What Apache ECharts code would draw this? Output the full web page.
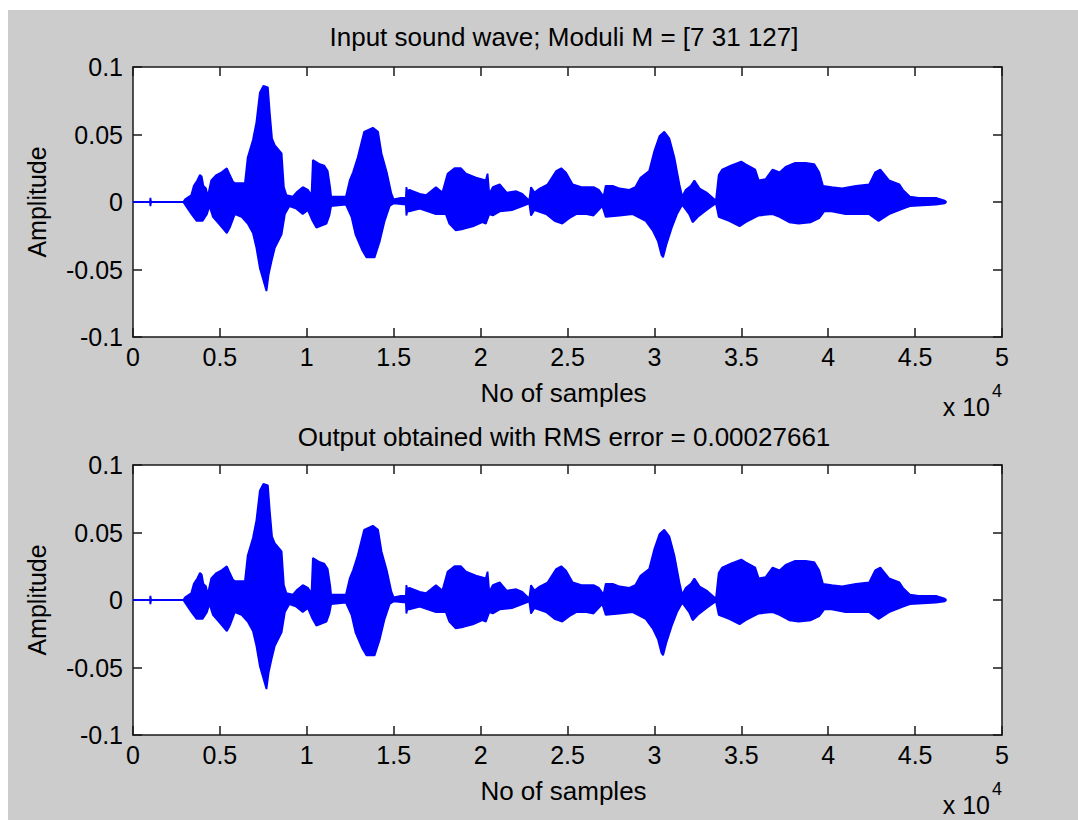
<!DOCTYPE html>
<html>
<head>
<meta charset="utf-8">
<script src="https://cdn.jsdelivr.net/npm/echarts@6/dist/echarts.min.js"></script>
<style>
html,body{margin:0;padding:0;background:#ffffff;}
#chart{width:1078px;height:820px;}
</style>
</head>
<body>
<div id="chart"></div>
<script>
// ---- Text ----
const titleTop = 'Input sound wave; Moduli M = [7 31 127]';
const titleBottom = 'Output obtained with RMS error = 0.00027661';
const xAxisName = 'No of samples';
const yAxisName = 'Amplitude';

// ---- Axis ranges / ticks (x in units of 10^4 samples) ----
const xTicks = [0, 0.5, 1, 1.5, 2, 2.5, 3, 3.5, 4, 4.5, 5];
const yTicks = [-0.1, -0.05, 0, 0.05, 0.1];

// ---- Waveform envelope: [sample (x10^4), amplitude] ----
const inputUpper = [
  [0,0],[0.098,0],[0.10,0.003],[0.104,0],[0.29,0],[0.30,0.002],[0.335,0.005],[0.35,0.012],
  [0.37,0.016],[0.385,0.020],[0.395,0.019],[0.405,0.012],[0.42,0.010],[0.43,0.004],[0.45,0.016],
  [0.48,0.020],[0.51,0.022],[0.54,0.025],[0.557,0.020],[0.575,0.015],[0.586,0.014],[0.644,0.014],
  [0.66,0.033],[0.69,0.046],[0.71,0.059],[0.73,0.081],[0.75,0.086],[0.776,0.085],[0.787,0.066],
  [0.80,0.047],[0.816,0.042],[0.855,0.036],[0.868,0.011],[0.883,0.005],[0.92,0.004],[0.94,0.007],
  [0.977,0.011],[1.006,0.009],[1.027,0.005],[1.035,0.031],[1.075,0.028],[1.10,0.027],[1.12,0.023],
  [1.135,0.010],[1.14,0.004],[1.225,0.004],[1.247,0.016],[1.266,0.022],[1.293,0.033],[1.33,0.052],
  [1.38,0.055],[1.41,0.052],[1.43,0.036],[1.46,0.022],[1.487,0.006],[1.50,0.002],[1.54,0.003],
  [1.57,0.003],[1.573,0.011],[1.578,0.008],[1.59,0.009],[1.65,0.006],[1.686,0.005],[1.743,0.011],
  [1.78,0.007],[1.81,0.021],[1.85,0.025],[1.886,0.025],[1.916,0.021],[1.973,0.018],[2.03,0.016],
  [2.04,0.021],[2.05,0.006],[2.07,0.011],[2.11,0.013],[2.15,0.007],[2.205,0.008],[2.24,0.006],
  [2.28,0.001],[2.29,0.011],[2.31,0.007],[2.34,0.010],[2.385,0.013],[2.435,0.023],[2.464,0.025],
  [2.49,0.022],[2.53,0.013],[2.58,0.011],[2.65,0.011],[2.68,0.009],[2.707,0.004],[2.72,0.012],
  [2.76,0.012],[2.80,0.010],[2.856,0.009],[2.89,0.011],[2.92,0.018],[2.97,0.023],[3.0,0.038],
  [3.03,0.049],[3.057,0.052],[3.086,0.047],[3.115,0.033],[3.144,0.013],[3.16,0.004],[3.18,0.009],
  [3.21,0.012],[3.23,0.016],[3.26,0.010],[3.30,0.007],[3.354,0.001],[3.37,0.020],[3.39,0.024],
  [3.44,0.027],[3.50,0.030],[3.525,0.028],[3.58,0.024],[3.60,0.016],[3.64,0.017],[3.68,0.024],
  [3.72,0.022],[3.755,0.026],[3.81,0.029],[3.87,0.029],[3.92,0.028],[3.948,0.022],[3.97,0.012],
  [4.02,0.011],[4.08,0.010],[4.16,0.012],[4.236,0.013],[4.27,0.022],[4.30,0.024],[4.35,0.016],
  [4.41,0.013],[4.43,0.009],[4.47,0.004],[4.52,0.003],[4.62,0.003],[4.67,0.001],[4.68,0]
];
const inputLower = [
  [0,0],[0.098,0],[0.10,-0.003],[0.104,0],[0.29,0],[0.30,-0.002],[0.337,-0.009],[0.366,-0.014],
  [0.40,-0.014],[0.425,-0.009],[0.44,-0.003],[0.46,-0.011],[0.50,-0.017],[0.54,-0.023],[0.557,-0.019],
  [0.586,-0.009],[0.625,-0.011],[0.66,-0.016],[0.69,-0.023],[0.71,-0.034],[0.73,-0.049],[0.75,-0.058],
  [0.768,-0.066],[0.78,-0.054],[0.797,-0.044],[0.816,-0.034],[0.855,-0.024],[0.874,-0.009],[0.90,-0.003],
  [0.94,-0.005],[0.977,-0.009],[1.006,-0.006],[1.033,-0.014],[1.055,-0.019],[1.113,-0.016],[1.13,-0.010],
  [1.14,-0.003],[1.225,-0.002],[1.257,-0.011],[1.28,-0.024],[1.32,-0.036],[1.343,-0.041],[1.39,-0.041],
  [1.42,-0.029],[1.448,-0.014],[1.477,-0.003],[1.50,-0.001],[1.57,-0.002],[1.573,-0.010],[1.578,-0.007],
  [1.59,-0.007],[1.65,-0.005],[1.743,-0.009],[1.80,-0.009],[1.82,-0.016],[1.857,-0.021],[1.90,-0.020],
  [1.955,-0.018],[2.01,-0.015],[2.03,-0.016],[2.05,-0.009],[2.07,-0.010],[2.11,-0.007],[2.18,-0.006],
  [2.24,-0.003],[2.28,-0.001],[2.29,-0.010],[2.31,-0.006],[2.377,-0.009],[2.425,-0.014],[2.47,-0.016],
  [2.51,-0.012],[2.55,-0.009],[2.61,-0.009],[2.65,-0.010],[2.70,-0.003],[2.72,-0.011],[2.80,-0.010],
  [2.875,-0.009],[2.95,-0.014],[2.99,-0.021],[3.02,-0.029],[3.04,-0.039],[3.05,-0.041],[3.07,-0.031],
  [3.10,-0.019],[3.13,-0.009],[3.16,-0.002],[3.20,-0.009],[3.22,-0.015],[3.25,-0.011],[3.30,-0.006],
  [3.354,-0.001],[3.37,-0.011],[3.43,-0.014],[3.49,-0.018],[3.525,-0.015],[3.60,-0.010],[3.68,-0.009],
  [3.72,-0.011],[3.776,-0.015],[3.83,-0.016],[3.90,-0.015],[3.948,-0.012],[3.977,-0.007],[4.02,-0.007],
  [4.10,-0.009],[4.236,-0.009],[4.29,-0.014],[4.35,-0.009],[4.43,-0.005],[4.47,-0.003],[4.62,-0.002],
  [4.67,-0.001],[4.68,0]
];
// Output waveform is visually identical to the input in the picture
const outputUpper = inputUpper;
const outputLower = inputLower;

// ---- Build chart ----
const FONT = 'Liberation Sans, Arial, sans-serif';
const FS = 25;
const gridsPos = [
  {left: 133, top: 67, width: 869, height: 270},
  {left: 133, top: 465, width: 869, height: 270}
];

function xAxes(gi) {
  const base = {
    type: 'value', gridIndex: gi, min: xTicks[0], max: xTicks[xTicks.length - 1],
    interval: xTicks[1] - xTicks[0],
    axisLine: {show: true, onZero: false, lineStyle: {color: '#1a1a1a', width: 1.5}},
    axisTick: {show: true, inside: true, length: 9, lineStyle: {color: '#1a1a1a', width: 1.5}},
    splitLine: {show: false}
  };
  return [
    Object.assign({}, base, {
      position: 'bottom',
      name: xAxisName, nameLocation: 'middle', nameGap: 43,
      nameTextStyle: {fontSize: 26, fontFamily: FONT, color: '#000', padding: [0, 8, 0, 0]},
      axisLabel: {show: true, fontSize: FS, fontFamily: FONT, color: '#000', margin: 7,
        formatter: v => String(v)}
    }),
    Object.assign({}, base, {position: 'top', axisLabel: {show: false}})
  ];
}
function yAxes(gi) {
  const base = {
    type: 'value', gridIndex: gi, min: yTicks[0], max: yTicks[yTicks.length - 1],
    interval: yTicks[1] - yTicks[0],
    axisLine: {show: true, onZero: false, lineStyle: {color: '#1a1a1a', width: 1.5}},
    axisTick: {show: true, inside: true, length: 9, lineStyle: {color: '#1a1a1a', width: 1.5}},
    splitLine: {show: false}
  };
  return [
    Object.assign({}, base, {
      position: 'left',
      name: yAxisName, nameLocation: 'middle', nameGap: 84, nameRotate: 90,
      nameTextStyle: {fontSize: FS, fontFamily: FONT, color: '#000'},
      axisLabel: {show: true, fontSize: FS, fontFamily: FONT, color: '#000', margin: 10,
        formatter: v => String(+v.toFixed(2))}
    }),
    Object.assign({}, base, {position: 'right', axisLabel: {show: false}})
  ];
}
function wave(gi, data) {
  return {
    type: 'line', xAxisIndex: gi * 2, yAxisIndex: gi * 2, data: data,
    showSymbol: false, symbol: 'none', silent: true, z: 3,
    lineStyle: {color: '#0000ff', width: 1.8},
    areaStyle: {color: '#0000ff', opacity: 1, origin: 0}
  };
}

const graphics = [
  {type: 'rect', left: 8, top: 10, shape: {width: 1070, height: 810}, style: {fill: '#cccccc'}, z: -10, silent: true},
  {type: 'text', x: 564, y: 37, style: {text: titleTop, fontSize: 26, fontFamily: FONT, fill: '#000', align: 'center', verticalAlign: 'middle'}},
  {type: 'text', x: 564, y: 437, style: {text: titleBottom, fontSize: 26, fontFamily: FONT, fill: '#000', align: 'center', verticalAlign: 'middle'}}
];
[407, 805].forEach(function (yy) {
  graphics.push({type: 'text', x: 990, y: yy, style: {text: 'x 10', fontSize: FS, fontFamily: FONT, fill: '#000', align: 'right', verticalAlign: 'middle'}});
  graphics.push({type: 'text', x: 992, y: yy - 16, style: {text: '4', fontSize: 18, fontFamily: FONT, fill: '#000', align: 'left', verticalAlign: 'middle'}});
});

const chart = echarts.init(document.getElementById('chart'), null, {renderer: 'svg', width: 1078, height: 820});
chart.setOption({
  animation: false,
  backgroundColor: 'transparent',
  grid: gridsPos.map(g => Object.assign({show: true, backgroundColor: '#ffffff', borderWidth: 0, containLabel: false}, g)),
  xAxis: xAxes(0).concat(xAxes(1)),
  yAxis: yAxes(0).concat(yAxes(1)),
  series: [wave(0, inputUpper), wave(0, inputLower), wave(1, outputUpper), wave(1, outputLower)],
  graphic: graphics
});
</script>
</body>
</html>
